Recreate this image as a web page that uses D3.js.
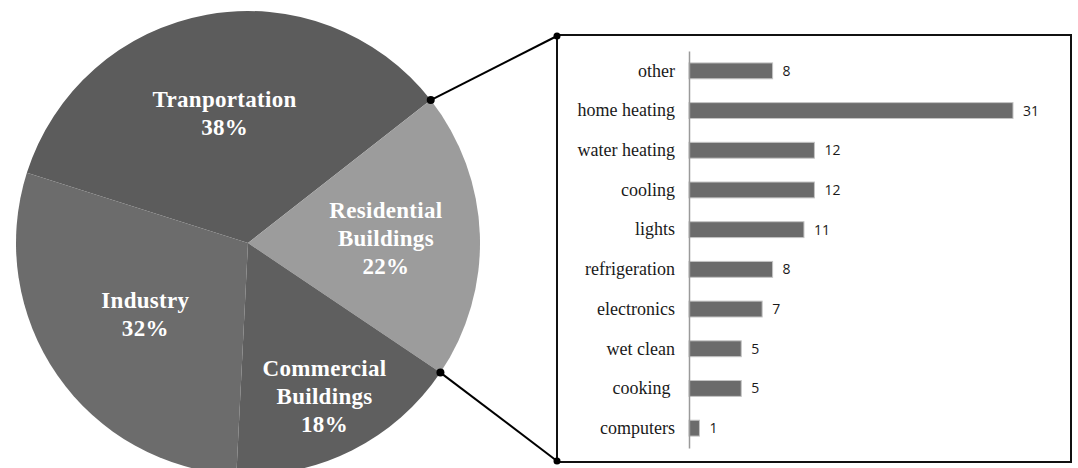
<!DOCTYPE html>
<html>
<head>
<meta charset="utf-8">
<script src="https://cdn.jsdelivr.net/npm/d3@7"></script>
<style>
  html, body { margin: 0; padding: 0; background: #ffffff; }
  svg { display: block; }
</style>
</head>
<body>
<svg id="chart" width="1078" height="468"></svg>
<script>
// ---- data ----
const pieCategories = ["Tranportation", "Residential Buildings", "Commercial Buildings", "Industry"];
const pieValues = [38, 22, 18, 32];
const barCategories = ["other", "home heating", "water heating", "cooling", "lights",
  "refrigeration", "electronics", "wet clean", "cooking ", "computers"];
const barValues = [8, 31, 12, 12, 11, 8, 7, 5, 5, 1];

// ---- layout / style ----
const W = 1078, H = 468;
const pieCx = 248, pieCy = 243, pieR = 232;
const pieColors = ["#5c5c5c", "#9c9c9c", "#5f5f5f", "#6c6c6c"];
const labelRadius = [132, 138, 171, 125];
const box = { x: 557, y: 35, w: 514, h: 427 };
const plot = { left: 689, right: 1013, top: 51, bottom: 448 };

const svg = d3.select("#chart");
svg.append("rect").attr("width", W).attr("height", H).attr("fill", "#ffffff");

// ---- pie ----
const deg = Math.PI / 180;
const start = -72.4 * deg;
const pie = d3.pie().sort(null).value(d => d).startAngle(start).endAngle(start + 2 * Math.PI);
const arcs = pie(pieValues);
const arc = d3.arc().innerRadius(0).outerRadius(pieR);

const gPie = svg.append("g").attr("transform", `translate(${pieCx},${pieCy})`);
gPie.selectAll("path.slice").data(arcs).join("path")
  .attr("class", "slice")
  .attr("d", arc)
  .attr("fill", (d, i) => pieColors[i]);

// labels
arcs.forEach((a, i) => {
  const mid = (a.startAngle + a.endAngle) / 2;
  const r = labelRadius[i];
  const cx = r * Math.sin(mid), cy = -r * Math.cos(mid);
  const lines = pieCategories[i].split(" ").concat([pieValues[i] + "%"]);
  const lh = 28;
  const first = cy - (lines.length - 1) * lh / 2 + 8;
  const t = gPie.append("text")
    .attr("text-anchor", "middle")
    .attr("fill", "#ffffff")
    .attr("font-family", "'Liberation Serif', 'Times New Roman', serif")
    .attr("font-weight", "bold")
    .attr("font-size", 23)
    .attr("letter-spacing", 0.3);
  lines.forEach((ln, j) => {
    t.append("tspan").attr("x", cx).attr("y", first + j * lh).text(ln);
  });
});

// ---- connector ----
const res = arcs[1];
const p1 = [pieCx + pieR * Math.sin(res.startAngle), pieCy - pieR * Math.cos(res.startAngle)];
const p2 = [pieCx + pieR * Math.sin(res.endAngle), pieCy - pieR * Math.cos(res.endAngle)];
const c1 = [box.x, box.y + 1];
const c2 = [box.x, box.y + box.h - 1];

svg.append("rect")
  .attr("x", box.x).attr("y", box.y).attr("width", box.w).attr("height", box.h)
  .attr("fill", "#ffffff").attr("stroke", "#111").attr("stroke-width", 2);

svg.append("line").attr("x1", p1[0]).attr("y1", p1[1]).attr("x2", c1[0]).attr("y2", c1[1])
  .attr("stroke", "#000").attr("stroke-width", 2);
svg.append("line").attr("x1", p2[0]).attr("y1", p2[1]).attr("x2", c2[0]).attr("y2", c2[1])
  .attr("stroke", "#000").attr("stroke-width", 2);
[p1, p2].forEach(p => svg.append("circle").attr("cx", p[0]).attr("cy", p[1]).attr("r", 4).attr("fill", "#000"));
[c1, c2].forEach(p => svg.append("circle").attr("cx", p[0]).attr("cy", p[1]).attr("r", 3.5).attr("fill", "#000"));

// ---- bar chart ----
const x = d3.scaleLinear().domain([0, 31]).range([plot.left, plot.right]);
const y = d3.scaleBand().domain(barCategories).range([plot.top, plot.bottom])
  .paddingInner(0.6).paddingOuter(0.3);

const gBar = svg.append("g");
gBar.selectAll("rect.bar").data(barValues).join("rect")
  .attr("class", "bar")
  .attr("x", x(0))
  .attr("y", (d, i) => y(barCategories[i]))
  .attr("width", d => x(d) - x(0))
  .attr("height", y.bandwidth())
  .attr("fill", "#6b6b6b")
  .attr("stroke", "#c4c4c4")
  .attr("stroke-width", 1);

gBar.selectAll("text.val").data(barValues).join("text")
  .attr("class", "val")
  .attr("x", d => x(d) + 10)
  .attr("y", (d, i) => y(barCategories[i]) + y.bandwidth() / 2)
  .attr("dy", "0.36em")
  .attr("font-family", "'Open Sans', 'DejaVu Sans', sans-serif")
  .attr("font-size", 14)
  .attr("fill", "#1a1a1a")
  .text(d => d);

const axis = d3.axisLeft(y).tickSizeInner(0).tickSizeOuter(0).tickPadding(14);
const gAxis = svg.append("g").attr("transform", `translate(${plot.left},0)`).call(axis);
gAxis.select(".domain").attr("stroke", "#9a9a9a").attr("stroke-width", 1.5);
gAxis.selectAll(".tick text")
  .attr("font-family", "'Liberation Serif', 'Times New Roman', serif")
  .attr("font-size", 18)
  .attr("fill", "#1a1a1a")
  .style("white-space", "pre");
</script>
</body>
</html>
